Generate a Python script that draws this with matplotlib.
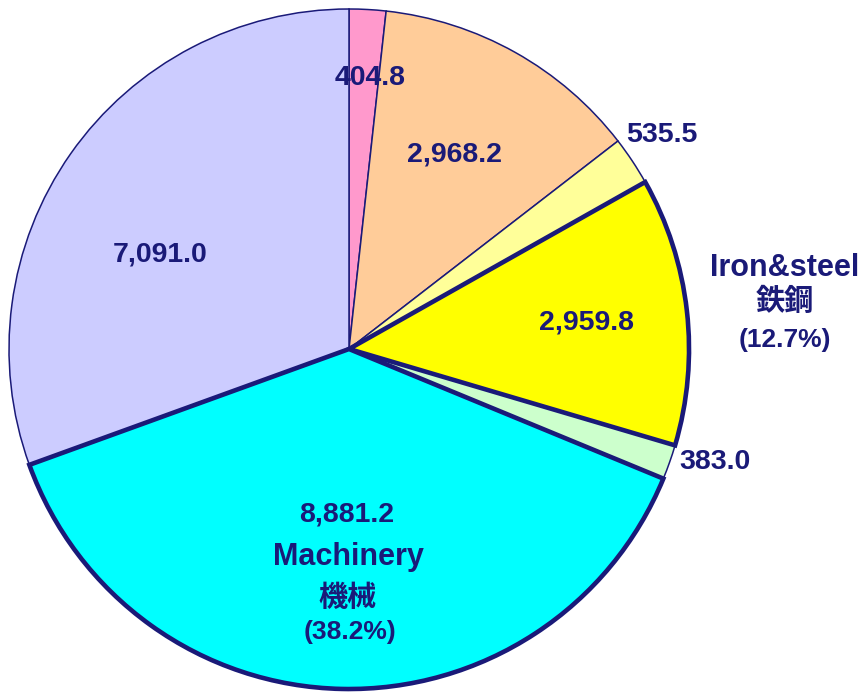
import matplotlib
matplotlib.use("Agg")
import matplotlib.pyplot as plt

plt.rcParams['font.family'] = ['Liberation Sans', 'Noto Sans CJK JP', 'DejaVu Sans']

# slices, clockwise from 12 o'clock
values = [404.8, 2968.2, 535.5, 2959.8, 383.0, 8881.2, 7091.0]
colors = ['#FF99CC', '#FFCC99', '#FFFF99', '#FFFF00', '#CCFFCC', '#00FFFF', '#CCCCFF']
explode = [0, 0, 0, 0.02, 0, 0.02, 0]
highlight = [False, False, False, True, False, True, False]
navy = '#1a1a78'

# where each value label sits (pixels from top-left)
value_pos = [(370, 78), (455, 155), (662, 135), (587, 322), (715, 462), (347, 515), (160, 255)]

W, H = 864, 693
fig = plt.figure(figsize=(W / 100, H / 100), dpi=100)
ax = fig.add_axes([0, 0, 1, 1])

cx, cy, r = 349, H - 349, 340
wedges, _ = ax.pie(values, colors=colors, explode=explode, startangle=90,
                   counterclock=False, center=(cx, cy), radius=r,
                   wedgeprops=dict(edgecolor=navy, linewidth=1.1))
for w, hl in zip(wedges, highlight):
    if hl:
        w.set_linewidth(3.3)
        w.set_zorder(3)
        w.set_joinstyle('miter')

ax.set_xlim(0, W)
ax.set_ylim(0, H)
ax.set_aspect('equal')
ax.axis('off')

for v, (x, y) in zip(values, value_pos):
    ax.text(x, H - y, f"{v:,.1f}", ha='center', va='center', fontsize=20.5,
            fontweight='bold', color=navy, zorder=5)

total = sum(values)
mach_pct = values[5] / total * 100
iron_pct = values[3] / total * 100

ax.text(348, H - 557, "Machinery", ha='center', va='center', fontsize=22,
        fontweight='bold', color=navy, zorder=5)
ax.text(348, H - 598, "機械", ha='center', va='center', fontsize=21,
        fontweight='bold', color=navy, zorder=5)
ax.text(350, H - 632, f"({mach_pct:.1f}%)", ha='center', va='center', fontsize=19,
        fontweight='bold', color=navy, zorder=5)

ax.text(785, H - 268, "Iron&steel", ha='center', va='center', fontsize=22,
        fontweight='bold', color=navy, zorder=5)
ax.text(785, H - 302, "鉄鋼", ha='center', va='center', fontsize=21,
        fontweight='bold', color=navy, zorder=5)
ax.text(785, H - 340, f"({iron_pct:.1f}%)", ha='center', va='center', fontsize=19,
        fontweight='bold', color=navy, zorder=5)

fig.savefig("out.png", dpi=100)
